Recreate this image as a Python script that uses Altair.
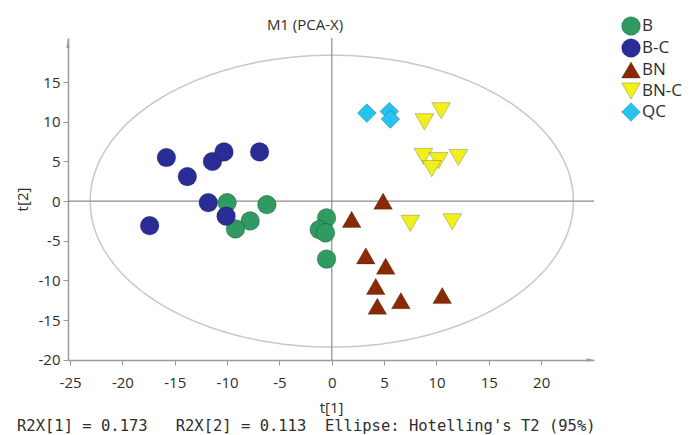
import altair as alt
import pandas as pd
import numpy as np

# ---- data ----
groups = ["B", "B-C", "BN", "BN-C", "QC"]
group_colors = ["#2f9a62", "#2a2d95", "#8a2a05", "#f2f01a", "#25c4ee"]
group_shapes = ["circle", "circle", "triangle-up", "triangle-down", "diamond"]
group_sizes = [350, 350, 290, 290, 300]

b_t1 = [-10.0, -6.2, -7.8, -9.2, -0.5, -1.2, -0.6, -0.5]
b_t2 = [-0.2, -0.45, -2.5, -3.5, -2.1, -3.6, -4.0, -7.3]
bc_t1 = [-15.8, -13.8, -11.4, -10.3, -6.9, -11.8, -10.1, -17.4]
bc_t2 = [5.5, 3.1, 5.0, 6.2, 6.2, -0.2, -1.9, -3.1]
bn_t1 = [4.9, 1.9, 3.25, 5.15, 4.2, 4.35, 6.6, 10.55]
bn_t2 = [0.0, -2.3, -6.9, -8.2, -10.75, -13.25, -12.55, -11.9]
bnc_t1 = [10.45, 8.85, 8.75, 10.2, 9.55, 12.1, 7.5, 11.5]
bnc_t2 = [11.4, 10.0, 5.65, 5.1, 4.1, 5.5, -2.8, -2.6]
qc_t1 = [3.35, 5.5, 5.6]
qc_t2 = [11.1, 11.3, 10.35]

x_minor = [v / 2 for v in range(-50, 47, 5)]
y_minor = [v / 2 for v in range(-40, 37, 5)]

X_DOMAIN = [-25.2, 25.05]
Y_DOMAIN = [-20.03, 20.57]
ELLIPSE_A = 23.08
ELLIPSE_B = 18.4

title_text = "M1 (PCA-X)"
footer_text = "R2X[1] = 0.173   R2X[2] = 0.113  Ellipse: Hotelling's T2 (95%)".replace(" ", "\u00a0")

# ---- tables ----
rows = []
for g, xs, ys in [("B", b_t1, b_t2), ("B-C", bc_t1, bc_t2), ("BN", bn_t1, bn_t2),
                  ("BN-C", bnc_t1, bnc_t2), ("QC", qc_t1, qc_t2)]:
    for a, b in zip(xs, ys):
        rows.append({"t1": a, "t2": b, "group": g})
pts = pd.DataFrame(rows)

theta = np.linspace(0, 2 * np.pi, 361)
ell = pd.DataFrame({"t1": ELLIPSE_A * np.cos(theta), "t2": ELLIPSE_B * np.sin(theta),
                    "i": np.arange(len(theta))})

FONT = "Open Sans"
AXIS_GREY = "#9a9a9a"
TEXT = "#2e2e2e"

xscale = alt.Scale(domain=X_DOMAIN, nice=False, zero=False)
yscale = alt.Scale(domain=Y_DOMAIN, nice=False, zero=False)

xaxis = alt.Axis(values=x_minor, title="t[1]", grid=False,
                 labelExpr="datum.value % 5 === 0 ? '' + datum.value : ''",
                 tickSize={"condition": {"test": "datum.value % 5 === 0", "value": 5}, "value": 3},
                 domainColor=AXIS_GREY, tickColor=AXIS_GREY, domainWidth=1.5, tickWidth=1,
                 labelFont=FONT, labelFontSize=15, labelColor=TEXT, labelPadding=10,
                 titleFont=FONT, titleFontSize=15, titleColor=TEXT, titleFontWeight="normal",
                 titleY=47, titleBaseline="middle", labelFlush=False, labelOverlap=False)
yaxis = alt.Axis(values=y_minor, title="t[2]", grid=False,
                 labelExpr="datum.value % 5 === 0 ? '' + datum.value : ''",
                 tickSize={"condition": {"test": "datum.value % 5 === 0", "value": 5}, "value": 3},
                 domainColor=AXIS_GREY, tickColor=AXIS_GREY, domainWidth=1.5, tickWidth=1,
                 labelFont=FONT, labelFontSize=15, labelColor=TEXT, labelPadding=3,
                 titleFont=FONT, titleFontSize=15, titleColor=TEXT, titleFontWeight="normal",
                 titlePadding=8, labelFlush=False, labelOverlap=False)

ellipse = alt.Chart(ell).mark_line(color="#c8c8c8", strokeWidth=1.5).encode(
    x=alt.X("t1:Q", scale=xscale, axis=xaxis),
    y=alt.Y("t2:Q", scale=yscale, axis=yaxis),
    order="i:Q",
)

hline = alt.Chart(pd.DataFrame({"v": [0]})).mark_rule(color="#8c8c8c", strokeWidth=1.2).encode(
    y=alt.Y("v:Q", scale=yscale))
vline = alt.Chart(pd.DataFrame({"v": [0]})).mark_rule(color="#8c8c8c", strokeWidth=1.2).encode(
    x=alt.X("v:Q", scale=xscale))

points = alt.Chart(pts).mark_point(filled=True, opacity=1, stroke="rgba(0,0,0,0.22)",
                                   strokeWidth=1).encode(
    x=alt.X("t1:Q", scale=xscale),
    y=alt.Y("t2:Q", scale=yscale),
    color=alt.Color("group:N", scale=alt.Scale(domain=groups, range=group_colors),
                    legend=alt.Legend(title=None, orient="none", legendX=553, legendY=-22,
                                      symbolSize=330, labelFont=FONT, labelFontSize=17,
                                      labelColor=TEXT, labelOffset=1, rowPadding=-2.25,
                                      symbolStrokeWidth=1, padding=0)),
    shape=alt.Shape("group:N", scale=alt.Scale(domain=groups, range=group_shapes)),
    size=alt.Size("group:N", scale=alt.Scale(domain=groups, range=group_sizes), legend=None),
)

yarrow = alt.Chart(pd.DataFrame({"x": [X_DOMAIN[0]], "y": [Y_DOMAIN[1]]})).mark_point(
    shape="M0,0 L0.32,2 L-0.32,2 Z", filled=True, color=AXIS_GREY, opacity=1, size=100
).encode(x=alt.X("x:Q", scale=xscale), y=alt.Y("y:Q", scale=yscale))
xarrow = alt.Chart(pd.DataFrame({"x": [X_DOMAIN[1]], "y": [Y_DOMAIN[0]]})).mark_point(
    shape="M0,0 L-2,-0.45 L-2,0.45 Z", filled=True, color=AXIS_GREY, opacity=1, size=56
).encode(x=alt.X("x:Q", scale=xscale), y=alt.Y("y:Q", scale=yscale))

title = alt.Chart(pd.DataFrame({"t": [title_text]})).mark_text(
    font=FONT, fontSize=15, align="center", baseline="middle", color=TEXT
).encode(text="t:N", x=alt.value(237), y=alt.value(-13))

footer = alt.Chart(pd.DataFrame({"t": [footer_text]})).mark_text(
    font="DejaVu Sans Mono", fontSize=15.5, align="left", baseline="middle", color=TEXT
).encode(text="t:N", x=alt.value(-51), y=alt.value(388))

chart = alt.layer(ellipse, hline, vline, points, yarrow, xarrow, title, footer).properties(
    width=526, height=322,
    padding={"left": 68, "top": 38, "right": 98, "bottom": 75},
    autosize=alt.AutoSizeParams(type="none"),
).configure_view(stroke=None)

chart.save("out.html", embed_options={"renderer": "svg", "actions": False})
